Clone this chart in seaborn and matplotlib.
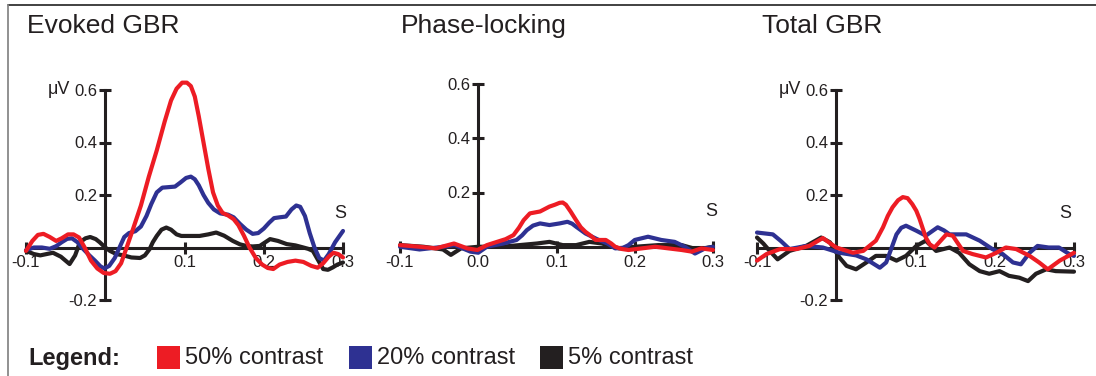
import pandas as pd
import matplotlib.pyplot as plt
import seaborn as sns
from matplotlib.lines import Line2D
from matplotlib.patches import Rectangle

# data (time in s, amplitude in uV)
evoked_red_t = [-0.1, -0.092, -0.085, -0.078, -0.07, -0.062, -0.055, -0.047, -0.04, -0.033, -0.026, -0.018, -0.01,
                -0.002, 0.006, 0.013, 0.02, 0.027, 0.035, 0.045, 0.055, 0.065, 0.075, 0.083, 0.09, 0.097, 0.103,
                0.108, 0.113, 0.118, 0.124, 0.13, 0.136, 0.142, 0.148, 0.155, 0.162, 0.168, 0.175, 0.182, 0.19,
                0.198, 0.205, 0.212, 0.22, 0.23, 0.24, 0.25, 0.26, 0.268, 0.275, 0.282, 0.288, 0.294, 0.3]
evoked_red = [-0.013, 0.025, 0.048, 0.052, 0.04, 0.025, 0.035, 0.05, 0.05, 0.038, 0.0, -0.05, -0.08,
              -0.097, -0.1, -0.09, -0.06, 0.0, 0.07, 0.16, 0.27, 0.37, 0.48, 0.56, 0.605, 0.628, 0.628,
              0.615, 0.575, 0.5, 0.4, 0.3, 0.21, 0.16, 0.132, 0.122, 0.108, 0.085, 0.045, 0.0, -0.04,
              -0.065, -0.078, -0.082, -0.065, -0.055, -0.05, -0.055, -0.07, -0.077, -0.06, -0.035, -0.02, -0.025, -0.038]
evoked_blue_t = [-0.1, -0.09, -0.08, -0.07, -0.062, -0.055, -0.048, -0.042, -0.035, -0.028, -0.02, -0.013, -0.006,
                 -0.001, 0.005, 0.012, 0.018, 0.024, 0.03, 0.038, 0.045, 0.052, 0.058, 0.065, 0.072, 0.08, 0.088,
                 0.095, 0.102, 0.108, 0.113, 0.118, 0.124, 0.13, 0.137, 0.145, 0.155, 0.162, 0.17, 0.178, 0.186,
                 0.193, 0.2, 0.207, 0.213, 0.22, 0.228, 0.235, 0.241, 0.246, 0.252, 0.258, 0.264, 0.27, 0.276,
                 0.282, 0.29, 0.3]
evoked_blue = [-0.01, 0.0, 0.0, -0.005, 0.005, 0.02, 0.033, 0.035, 0.02, -0.005, -0.03, -0.05, -0.072,
               -0.08, -0.07, -0.04, 0.0, 0.04, 0.055, 0.062, 0.08, 0.12, 0.165, 0.21, 0.228, 0.23, 0.232,
               0.248, 0.265, 0.27, 0.26, 0.237, 0.2, 0.17, 0.145, 0.13, 0.125, 0.115, 0.09, 0.068, 0.052,
               0.055, 0.072, 0.095, 0.112, 0.115, 0.118, 0.145, 0.16, 0.155, 0.12, 0.055, 0.0, -0.04, -0.05,
               -0.025, 0.02, 0.063]
evoked_black_t = [-0.1, -0.09, -0.082, -0.074, -0.066, -0.056, -0.045, -0.038, -0.032, -0.025, -0.019, -0.012,
                  -0.007, 0.0, 0.006, 0.014, 0.023, 0.033, 0.044, 0.05, 0.056, 0.06, 0.065, 0.071, 0.077, 0.083,
                  0.09, 0.096, 0.102, 0.11, 0.119, 0.13, 0.14, 0.15, 0.161, 0.17, 0.178, 0.186, 0.195, 0.202,
                  0.208, 0.218, 0.229, 0.24, 0.25, 0.256, 0.262, 0.268, 0.275, 0.281, 0.287, 0.293, 0.3]
evoked_black = [-0.013, -0.025, -0.03, -0.025, -0.02, -0.035, -0.063, -0.03, 0.02, 0.035, 0.04, 0.032,
                0.02, 0.0, -0.013, -0.025, -0.03, -0.038, -0.04, -0.03, -0.006, 0.02, 0.044, 0.068, 0.076, 0.068,
                0.05, 0.044, 0.044, 0.044, 0.044, 0.05, 0.057, 0.045, 0.025, 0.012, 0.006, 0.004, 0.006, 0.02,
                0.032, 0.025, 0.013, 0.008, 0.0, -0.005, -0.013, -0.045, -0.082, -0.085, -0.076, -0.065, -0.057]

phase_red_t = [-0.1, -0.075, -0.054, -0.04, -0.031, -0.014, -0.001, 0.011, 0.024, 0.035, 0.045, 0.052, 0.058, 0.066,
               0.079, 0.091, 0.098, 0.104, 0.108, 0.112, 0.118, 0.125, 0.131, 0.137, 0.144, 0.15, 0.163, 0.17,
               0.175, 0.183, 0.192, 0.209, 0.226, 0.243, 0.26, 0.273, 0.285, 0.3]
phase_red = [0.006, 0.0, -0.006, 0.005, 0.012, -0.006, -0.012, 0.006, 0.018, 0.028, 0.043, 0.07, 0.098, 0.123,
             0.13, 0.148, 0.155, 0.162, 0.163, 0.155, 0.13, 0.098, 0.072, 0.055, 0.04, 0.025, 0.025, 0.012,
             0.0, -0.008, -0.012, -0.006, 0.0, -0.006, -0.012, -0.018, -0.006, -0.012]
phase_blue_t = [-0.1, -0.075, -0.05, -0.03, -0.01, 0.0, 0.011, 0.032, 0.049, 0.056, 0.062, 0.07, 0.079, 0.091, 0.104,
                0.114, 0.12, 0.125, 0.137, 0.154, 0.165, 0.175, 0.185, 0.192, 0.2, 0.217, 0.234, 0.251, 0.264,
                0.277, 0.29, 0.3]
phase_blue = [0.0, -0.01, -0.002, 0.006, -0.018, -0.022, 0.0, 0.012, 0.025, 0.042, 0.061, 0.078, 0.086, 0.08, 0.086,
              0.092, 0.085, 0.074, 0.049, 0.025, 0.012, -0.006, -0.004, 0.006, 0.025, 0.037, 0.025, 0.018, 0.0,
              -0.025, -0.006, 0.0]
phase_black_t = [-0.1, -0.07, -0.045, -0.035, -0.022, 0.0, 0.03, 0.075, 0.091, 0.108, 0.125, 0.142, 0.158, 0.18, 0.2,
                 0.23, 0.26, 0.28, 0.3]
phase_black = [0.006, 0.0, -0.01, -0.03, -0.006, 0.0, 0.0, 0.012, 0.018, 0.006, 0.006, 0.018, 0.012, -0.006, 0.0,
               0.006, 0.006, -0.01, 0.0]

total_red_t = [-0.1, -0.088, -0.071, -0.05, -0.034, -0.017, 0.0, 0.021, 0.034, 0.05, 0.059, 0.065, 0.071, 0.078,
               0.084, 0.09, 0.096, 0.101, 0.105, 0.11, 0.113, 0.118, 0.124, 0.13, 0.139, 0.147, 0.153, 0.16, 0.172,
               0.189, 0.202, 0.214, 0.227, 0.244, 0.256, 0.267, 0.282, 0.3]
total_red = [-0.05, -0.025, -0.006, -0.006, 0.006, 0.036, 0.0, -0.02, -0.013, 0.026, 0.077, 0.12, 0.153, 0.18,
             0.192, 0.188, 0.165, 0.14, 0.11, 0.065, 0.038, 0.012, 0.0, 0.02, 0.05, 0.045, 0.018, -0.013, -0.025,
             -0.038, -0.02, 0.0, -0.006, -0.032, -0.057, -0.083, -0.05, -0.02]
total_blue_t = [-0.1, -0.08, -0.07, -0.059, -0.038, -0.017, 0.004, 0.025, 0.038, 0.055, 0.063, 0.07, 0.076, 0.082,
                0.088, 0.101, 0.113, 0.12, 0.128, 0.136, 0.143, 0.164, 0.181, 0.197, 0.21, 0.223, 0.233, 0.244,
                0.254, 0.268, 0.281, 0.294, 0.3]
total_blue = [0.057, 0.05, 0.025, -0.006, 0.006, 0.0, -0.02, -0.03, -0.045, -0.077, -0.057, 0.0, 0.05, 0.075,
              0.083, 0.064, 0.045, 0.06, 0.077, 0.065, 0.05, 0.05, 0.026, -0.006, -0.025, -0.057, -0.064, -0.02,
              0.006, 0.0, 0.0, -0.025, -0.032]
total_black_t = [-0.1, -0.092, -0.084, -0.074, -0.059, -0.038, -0.019, -0.008, 0.004, 0.013, 0.025, 0.038, 0.05,
                 0.063, 0.076, 0.088, 0.101, 0.113, 0.126, 0.143, 0.155, 0.168, 0.181, 0.193, 0.206, 0.218, 0.231,
                 0.242, 0.252, 0.265, 0.277, 0.3]
total_black = [0.038, 0.015, -0.013, -0.045, -0.013, 0.006, 0.038, 0.02, -0.038, -0.07, -0.083, -0.057, -0.032,
               -0.032, -0.05, -0.032, 0.006, 0.026, -0.013, 0.0, -0.02, -0.064, -0.09, -0.1, -0.09, -0.108, -0.115,
               -0.128, -0.1, -0.083, -0.09, -0.092]

conditions = ["5% contrast", "20% contrast", "50% contrast"]
colors = {"50% contrast": "#ED1C24", "20% contrast": "#2E3192", "5% contrast": "#231F20"}
titles = ["Evoked GBR", "Phase-locking", "Total GBR"]

panels = [
    {"5% contrast": (evoked_black_t, evoked_black), "20% contrast": (evoked_blue_t, evoked_blue),
     "50% contrast": (evoked_red_t, evoked_red)},
    {"5% contrast": (phase_black_t, phase_black), "20% contrast": (phase_blue_t, phase_blue),
     "50% contrast": (phase_red_t, phase_red)},
    {"5% contrast": (total_black_t, total_black), "20% contrast": (total_blue_t, total_blue),
     "50% contrast": (total_red_t, total_red)},
]

sns.set_theme(style="white")
plt.rcParams["font.family"] = ["Liberation Sans", "DejaVu Sans"]

W, H = 1096, 376
fig = plt.figure(figsize=(W / 100, H / 100), dpi=100)

# axes boxes in pixels: x of -0.1, x of 0.3, y of 0.6, y of -0.2
boxes = [(26, 343, 90, 300), (400, 713, 84, 301), (757, 1074, 90, 300)]
title_x = [27, 401, 762]
s_x = [0.297, 0.298, 0.289]

for i, (panel, box) in enumerate(zip(panels, boxes)):
    x0, x1, y0, y1 = box
    ax = fig.add_axes([x0 / W, 1 - y1 / H, (x1 - x0) / W, (y1 - y0) / H])
    ax.patch.set_alpha(0)

    rows = []
    for cond in conditions:
        t, v = panel[cond]
        rows += [{"time": a, "amp": b, "cond": cond} for a, b in zip(t, v)]
    df = pd.DataFrame(rows)
    sns.lineplot(data=df, x="time", y="amp", hue="cond", hue_order=conditions, palette=colors,
                 estimator=None, linewidth=3, legend=False, ax=ax, zorder=3, clip_on=False)
    for ln in ax.lines:
        ln.set_solid_capstyle("round")
        ln.set_solid_joinstyle("round")

    ax.set_xlim(-0.1, 0.3)
    ax.set_ylim(-0.2, 0.6)
    ax.set_xlabel("")
    ax.set_ylabel("")

    for side in ["top", "right"]:
        ax.spines[side].set_visible(False)
    ax.spines["left"].set_position(("data", 0))
    ax.spines["bottom"].set_position(("data", 0))
    for side in ["left", "bottom"]:
        ax.spines[side].set_linewidth(2.2)
        ax.spines[side].set_color("#231F20")
    ax.spines["bottom"].set_bounds(-0.1, 0.3)

    if i == 1:
        ax.spines["left"].set_bounds(0, 0.6)
        ax.set_yticks([0.2, 0.4, 0.6])
        ax.set_yticklabels(["0.2", "0.4", "0.6"])
        ax.set_xticks([-0.1, 0.0, 0.1, 0.2, 0.3])
        ax.set_xticklabels(["-0.1", "0.0", "0.1", "0.2", "0.3"])
    else:
        ax.spines["left"].set_bounds(-0.2, 0.6)
        ax.set_yticks([-0.2, 0.2, 0.4, 0.6])
        ax.set_yticklabels(["-0.2", "0.2", "0.4", "0.6"])
        ax.set_xticks([-0.1, 0.1, 0.2, 0.3])
        ax.set_xticklabels(["-0.1", "0.1", "0.2", "0.3"])
        ax.annotate("\u03bcV", xy=(0, 0.6), xytext=(-25, 0), textcoords="offset points",
                    ha="right", va="center", fontsize=13, color="#231F20")

    ax.tick_params(axis="both", direction="inout", length=8.5, width=2.2, color="#231F20",
                   labelsize=12, labelcolor="#231F20", pad=1.5, bottom=True, left=True)
    ax.text(s_x[i], 0.13, "S", ha="center", va="center", fontsize=13, color="#231F20")

    fig.text(title_x[i] / W, 1 - 26 / H, titles[i], fontsize=19, color="#231F20", ha="left", va="center")

# frame lines (top and left)
fig.add_artist(Line2D([8 / W, 1], [1 - 5 / H, 1 - 5 / H], color="#333333", linewidth=1.3))
fig.add_artist(Line2D([8 / W, 8 / W], [0, 1 - 5 / H], color="#888888", linewidth=1.3))

# legend row
fig.text(28 / W, 1 - 358 / H, "Legend:", fontsize=17, fontweight="bold", color="#231F20", ha="left", va="center")
leg_items = [("50% contrast", 157), ("20% contrast", 349), ("5% contrast", 540)]
for label, px in leg_items:
    fig.add_artist(Rectangle((px / W, 1 - 369 / H), 23 / W, 23 / H, transform=fig.transFigure,
                             facecolor=colors[label], edgecolor="none"))
    fig.text((px + 28) / W, 1 - 358 / H, label, fontsize=17, color="#231F20", ha="left", va="center")

fig.savefig("out.png", dpi=100)
